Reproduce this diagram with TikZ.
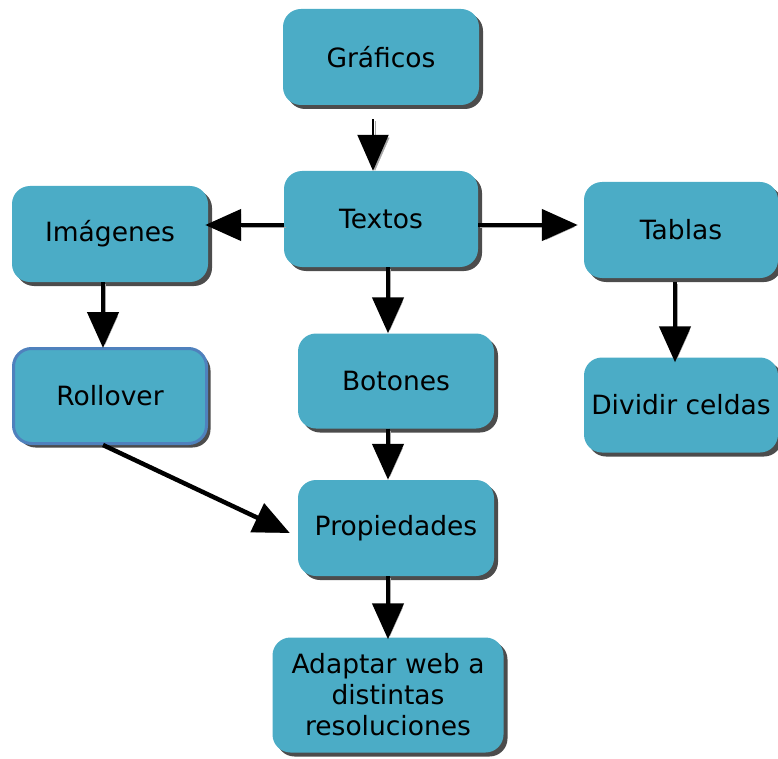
\documentclass[tikz,border=0pt]{standalone}
\usepackage{fontspec}
\setmainfont{DejaVu Sans}
\usepackage{tikz}
\usetikzlibrary{
  arrows.meta,
  shapes,
  positioning,
  calc,
  shadows
}
\definecolor{mpBox}{HTML}{4BACC6}
\definecolor{mpEdge}{HTML}{4F81BD}
\tikzset{
  mpnode/.style={
    rounded corners=18pt, minimum width=196pt, minimum height=96pt,
    font=\fontsize{26.5}{31}\selectfont, align=center, fill=mpBox,
    drop shadow={shadow xshift=4pt, shadow yshift=-4pt, fill=black, opacity=0.7}
  },
  topic/.style={mpnode, draw=none},
  picked/.style={mpnode, draw=mpEdge, line width=3pt},
  link/.style={-{Triangle[length=36pt, width=31pt]}, line width=4.5pt, black,
    preaction={draw=black!35, transform canvas={shift={(2pt,-2pt)}}}},
  thinlink/.style={link, line width=2pt}
}
\begin{document}
\begin{tikzpicture}[x=1pt, y=-1pt]
  \useasboundingbox (0,0) rectangle (778,759);

  % nodes
  \node[topic] (graficos) at (381,57) {Gráficos};
  \node[topic, minimum width=194pt] (textos) at (381,219) {Textos};
  \node[topic] (imagenes) at (110,234) {Imágenes};
  \node[topic, minimum width=194pt] (tablas) at (681,230) {Tablas};
  \node[picked, minimum width=193pt, minimum height=95pt] (rollover) at (110,396) {Rollover};
  \node[topic, minimum height=95pt] (botones) at (396,381) {Botones};
  \node[topic, minimum width=194pt, minimum height=95pt] (dividir) at (681,405) {Dividir celdas};
  \node[topic] (propiedades) at (396,528) {Propiedades};
  \node[topic, minimum width=231pt, minimum height=115pt] (adaptar) at (388,695)
    {Adaptar web a\\distintas\\resoluciones};

  % connectors
  \draw[thinlink, shorten <=14pt] ([xshift=-8pt]graficos.south) -- ([xshift=-8pt]graficos.south |- textos.north);
  \draw[link] ([yshift=-6pt]textos.west) -- ([yshift=-6pt, xshift=-3pt]textos.west -| imagenes.east);
  \draw[link] ([yshift=-6pt]textos.east) -- ([yshift=-6pt, xshift=-6pt]textos.east -| tablas.west);
  \draw[link] ([xshift=7pt]textos.south) -- ([xshift=7pt]textos.south |- botones.north);
  \draw[link] ([xshift=-7pt]imagenes.south) -- ([xshift=-7pt, yshift=-1pt]imagenes.south |- rollover.north);
  \draw[link, shorten <=4pt] ([xshift=-6pt]tablas.south) -- ([xshift=-6pt, yshift=-5pt]tablas.south |- dividir.north);
  \draw[link] ([xshift=-7pt]rollover.south) -- ([xshift=-8pt, yshift=-5pt]propiedades.west);
  \draw[link] ([xshift=-8pt]botones.south) -- ([xshift=-8pt]botones.south |- propiedades.north);
  \draw[link] ([xshift=-8pt]propiedades.south) -- ([xshift=-8pt, yshift=-2pt]propiedades.south |- adaptar.north);
\end{tikzpicture}
\end{document}
